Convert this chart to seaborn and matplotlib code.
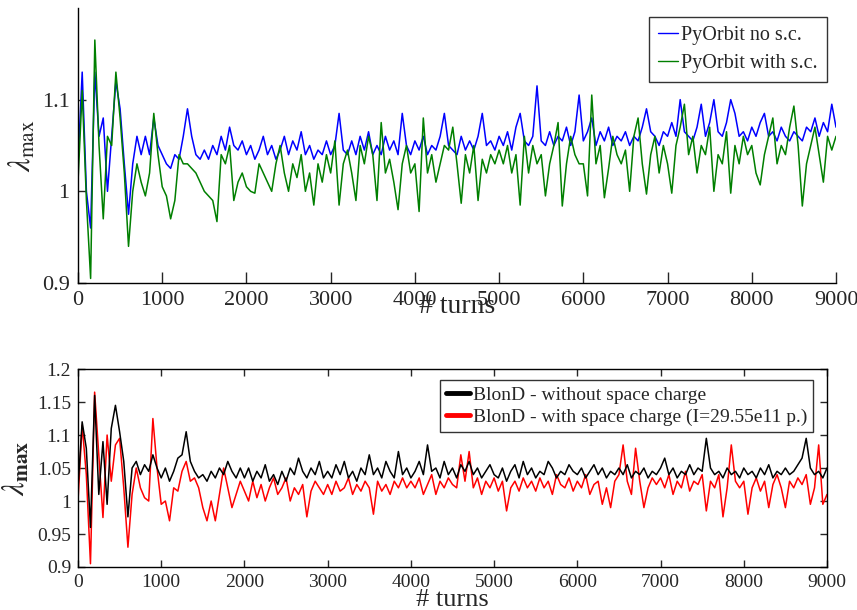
import numpy as np
import pandas as pd
import matplotlib
matplotlib.use("Agg")
import matplotlib.pyplot as plt
import seaborn as sns

# lambda_max sampled every 50 turns (0 ... 9000)
STEP = 50

pyorbit_no_sc = [
    1.03, 1.13, 1.00, 0.96, 1.13, 1.06, 1.08, 1.00, 1.06, 1.12,
    1.09, 1.03, 0.975, 1.03, 1.06, 1.04, 1.06, 1.04, 1.08, 1.05,
    1.04, 1.03, 1.025, 1.04, 1.035, 1.06, 1.09, 1.06, 1.04, 1.035,
    1.045, 1.035, 1.05, 1.04, 1.06, 1.045, 1.07, 1.05, 1.045, 1.055,
    1.04, 1.05, 1.035, 1.045, 1.06, 1.04, 1.05, 1.035, 1.045, 1.06,
    1.04, 1.055, 1.045, 1.065, 1.04, 1.05, 1.035, 1.045, 1.04, 1.055,
    1.04, 1.05, 1.085, 1.045, 1.04, 1.055, 1.04, 1.06, 1.045, 1.065,
    1.04, 1.05, 1.04, 1.06, 1.045, 1.055, 1.04, 1.085, 1.05, 1.04,
    1.055, 1.045, 1.06, 1.04, 1.05, 1.045, 1.06, 1.085, 1.05, 1.045,
    1.04, 1.06, 1.045, 1.055, 1.045, 1.06, 1.085, 1.05, 1.055, 1.045,
    1.06, 1.05, 1.065, 1.045, 1.07, 1.085, 1.055, 1.05, 1.06, 1.115,
    1.055, 1.05, 1.065, 1.05, 1.06, 1.055, 1.07, 1.05, 1.065, 1.105,
    1.055, 1.065, 1.08, 1.05, 1.065, 1.055, 1.07, 1.05, 1.06, 1.055,
    1.065, 1.05, 1.06, 1.055, 1.07, 1.09, 1.065, 1.06, 1.05, 1.065,
    1.06, 1.075, 1.06, 1.10, 1.065, 1.06, 1.055, 1.07, 1.095, 1.06,
    1.075, 1.10, 1.065, 1.06, 1.075, 1.10, 1.085, 1.06, 1.065, 1.055,
    1.07, 1.06, 1.075, 1.085, 1.06, 1.065, 1.055, 1.07, 1.06, 1.055,
    1.065, 1.06, 1.055, 1.07, 1.065, 1.08, 1.06, 1.075, 1.065, 1.095,
    1.07,
]

pyorbit_with_sc = [
    1.01, 1.11, 0.99, 0.905, 1.165, 1.05, 0.97, 1.06, 1.05, 1.13,
    1.08, 1.02, 0.94, 1.00, 1.03, 1.01, 0.995, 1.02, 1.085, 1.04,
    1.005, 0.995, 0.97, 0.99, 1.04, 1.03, 1.03, 1.025, 1.02, 1.01,
    1.00, 0.995, 0.99, 0.967, 1.04, 1.03, 1.05, 0.99, 1.01, 1.02,
    1.005, 1.00, 0.998, 1.03, 1.02, 1.01, 1.00, 1.03, 1.05, 1.02,
    1.00, 1.03, 1.015, 1.04, 1.00, 1.02, 0.985, 1.03, 1.01, 1.04,
    1.02, 1.055, 0.985, 1.03, 1.045, 1.02, 0.99, 1.05, 1.03, 1.06,
    1.04, 0.99, 1.075, 1.02, 1.035, 1.01, 0.98, 1.03, 1.05, 1.02,
    1.03, 0.978, 1.08, 1.02, 1.04, 1.01, 1.03, 1.05, 1.045, 1.07,
    1.03, 0.987, 1.04, 1.02, 1.05, 0.99, 1.035, 1.02, 1.04, 1.03,
    1.045, 1.03, 1.05, 1.02, 1.04, 0.985, 1.06, 1.02, 1.05, 1.03,
    1.04, 0.995, 1.03, 1.05, 1.075, 0.984, 1.03, 1.06, 1.04, 1.03,
    1.03, 0.995, 1.105, 1.03, 1.05, 0.993, 1.025, 1.06, 1.04, 1.03,
    1.045, 1.00, 1.06, 1.08, 1.03, 0.997, 1.04, 1.06, 1.02, 1.05,
    1.03, 0.998, 1.05, 1.07, 1.095, 1.04, 1.06, 1.02, 1.05, 1.04,
    1.07, 1.00, 1.04, 1.03, 1.065, 0.998, 1.05, 1.03, 1.06, 1.04,
    1.05, 1.02, 1.007, 1.04, 1.06, 1.08, 1.03, 1.05, 1.04, 1.07,
    1.093, 1.05, 0.984, 1.03, 1.05, 1.07, 1.04, 1.01, 1.06, 1.045,
    1.06,
]

blond_no_sc = [
    1.02, 1.12, 1.08, 0.96, 1.16, 1.01, 1.09, 0.995, 1.11, 1.145,
    1.105, 1.06, 0.976, 1.05, 1.06, 1.04, 1.055, 1.045, 1.07, 1.05,
    1.035, 1.05, 1.03, 1.045, 1.065, 1.07, 1.105, 1.06, 1.045, 1.035,
    1.04, 1.03, 1.045, 1.035, 1.05, 1.04, 1.06, 1.045, 1.035, 1.05,
    1.035, 1.05, 1.03, 1.045, 1.035, 1.055, 1.03, 1.04, 1.025, 1.045,
    1.03, 1.05, 1.04, 1.065, 1.045, 1.035, 1.05, 1.04, 1.06, 1.035,
    1.045, 1.035, 1.055, 1.04, 1.06, 1.035, 1.045, 1.03, 1.05, 1.04,
    1.07, 1.04, 1.05, 1.035, 1.06, 1.045, 1.035, 1.075, 1.04, 1.05,
    1.035, 1.045, 1.06, 1.04, 1.085, 1.045, 1.05, 1.035, 1.06, 1.04,
    1.05, 1.035, 1.055, 1.045, 1.06, 1.04, 1.05, 1.035, 1.045, 1.055,
    1.04, 1.035, 1.05, 1.03, 1.045, 1.055, 1.035, 1.06, 1.04, 1.05,
    1.035, 1.045, 1.04, 1.06, 1.05, 1.035, 1.045, 1.04, 1.055, 1.045,
    1.04, 1.05, 1.035, 1.045, 1.055, 1.04, 1.05, 1.035, 1.045, 1.04,
    1.05, 1.04, 1.055, 1.035, 1.045, 1.04, 1.05, 1.035, 1.045, 1.04,
    1.05, 1.065, 1.04, 1.05, 1.035, 1.045, 1.04, 1.055, 1.04, 1.05,
    1.045, 1.095, 1.05, 1.04, 1.045, 1.035, 1.05, 1.04, 1.045, 1.035,
    1.05, 1.04, 1.045, 1.035, 1.05, 1.04, 1.055, 1.035, 1.045, 1.04,
    1.05, 1.04, 1.045, 1.055, 1.065, 1.095, 1.05, 1.04, 1.045, 1.035,
    1.05,
]

blond_with_sc = [
    1.00, 1.115, 1.04, 0.905, 1.165, 1.07, 0.975, 1.10, 1.03, 1.085,
    1.095, 1.02, 0.93, 1.01, 1.05, 1.02, 1.005, 1.00, 1.125, 1.05,
    0.995, 1.00, 0.97, 1.02, 1.015, 1.045, 1.06, 1.03, 1.035, 1.02,
    0.99, 0.97, 1.00, 0.97, 1.01, 1.05, 1.02, 0.99, 1.01, 1.03,
    1.015, 1.00, 1.03, 1.005, 1.025, 1.00, 1.02, 1.035, 1.01, 1.02,
    1.035, 1.00, 1.02, 1.01, 1.025, 0.976, 1.015, 1.03, 1.02, 1.01,
    1.025, 1.01, 1.03, 1.015, 1.02, 1.035, 1.01, 1.025, 1.015, 1.03,
    1.02, 0.98, 1.03, 1.015, 1.025, 1.01, 1.03, 1.02, 1.035, 1.02,
    1.03, 1.02, 1.035, 1.01, 1.025, 1.04, 1.01, 1.03, 1.02, 1.035,
    1.025, 1.02, 1.07, 1.03, 1.075, 1.02, 1.035, 1.01, 1.03, 1.02,
    1.035, 1.015, 1.03, 0.985, 1.02, 1.03, 1.015, 1.035, 1.02, 1.03,
    1.015, 1.035, 1.02, 1.03, 1.01, 1.04, 1.025, 1.02, 1.035, 1.015,
    1.03, 1.02, 1.04, 1.01, 1.025, 1.03, 0.995, 1.02, 0.99, 1.03,
    1.04, 1.085, 1.03, 1.01, 1.08, 1.03, 0.99, 1.02, 1.035, 1.025,
    1.035, 1.02, 1.04, 1.01, 1.03, 1.02, 1.045, 1.015, 1.03, 1.025,
    1.04, 0.985, 1.03, 1.02, 1.04, 0.976, 1.02, 1.085, 1.03, 1.02,
    1.03, 0.98, 1.02, 1.035, 1.015, 1.03, 0.99, 1.025, 1.04, 1.02,
    0.99, 1.03, 1.02, 1.035, 1.025, 1.04, 0.995, 1.02, 1.085, 0.995,
    1.01,
]

top_labels = ["PyOrbit no s.c.", "PyOrbit with s.c."]
bottom_labels = ["BlonD - without space charge",
                 "BlonD - with space charge (I=29.55e11 p.)"]
x_ticks = list(range(0, 9001, 1000))
top_y_ticks = [0.9, 1.0, 1.1]
bottom_y_ticks = [0.9, 0.95, 1.0, 1.05, 1.1, 1.15, 1.2]


def long_frame(series, labels):
    parts = []
    for vals, lab in zip(series, labels):
        parts.append(pd.DataFrame({
            "turns": np.arange(len(vals)) * STEP,
            "lam": vals,
            "code": lab,
        }))
    return pd.concat(parts, ignore_index=True)


sns.set_style("white")
plt.rcParams["font.family"] = ["Liberation Serif", "DejaVu Serif"]
plt.rcParams["mathtext.fontset"] = "stix"

fig = plt.figure(figsize=(8.57, 6.10), dpi=100)
ax1 = fig.add_axes([0.091, 0.536, 0.8845, 0.451])
ax2 = fig.add_axes([0.091, 0.0705, 0.874, 0.3245])

LW = 1.1

# ---- upper panel: PyOrbit ----
df_top = long_frame([pyorbit_no_sc, pyorbit_with_sc], top_labels)
sns.lineplot(data=df_top, x="turns", y="lam", hue="code", hue_order=top_labels,
             palette=["#0000ff", "#007f00"], estimator=None, lw=LW, ax=ax1)
ax1.set_xlim(0, 9000)
ax1.set_ylim(0.9, 1.2)
ax1.set_xticks(x_ticks)
ax1.set_yticks(top_y_ticks)
ax1.set_yticklabels(["0.9", "1", "1.1"])
for s in ["top", "right"]:
    ax1.spines[s].set_visible(False)
for s in ["left", "bottom"]:
    ax1.spines[s].set_color("black")
    ax1.spines[s].set_linewidth(1.0)
ax1.tick_params(axis="x", direction="in", length=8, width=1, labelsize=16,
                bottom=True, pad=6)
ax1.tick_params(axis="y", direction="in", length=6, width=1, labelsize=16,
                left=True, pad=6)
ax1.set_xlabel("# turns", fontsize=20)
ax1.xaxis.set_label_coords(0.5, -0.04)
ax1.set_ylabel(r"$\lambda_{\mathrm{max}}$", fontsize=22)
ax1.yaxis.set_label_coords(-0.053, 0.5)
leg1 = ax1.legend(loc="upper right", bbox_to_anchor=(0.988, 0.967),
                  borderaxespad=0, fontsize=14.5, frameon=True, fancybox=False,
                  handlelength=1.0, handletextpad=0.15, borderpad=0.45,
                  labelspacing=0.45)
leg1.get_frame().set_edgecolor("black")
leg1.get_frame().set_linewidth(1.0)
for ln in leg1.get_lines():
    ln.set_linewidth(1.0)

# ---- lower panel: BlonD ----
df_bot = long_frame([blond_no_sc, blond_with_sc], bottom_labels)
sns.lineplot(data=df_bot, x="turns", y="lam", hue="code",
             hue_order=bottom_labels[::-1], palette=["#ff0000", "#000000"],
             estimator=None, lw=LW, ax=ax2)
ax2.set_xlim(0, 9000)
ax2.set_ylim(0.9, 1.2)
ax2.set_xticks(x_ticks)
ax2.set_yticks(bottom_y_ticks)
ax2.set_yticklabels(["0.9", "0.95", "1", "1.05", "1.1", "1.15", "1.2"])
for s in ax2.spines.values():
    s.set_visible(True)
    s.set_color("black")
    s.set_linewidth(1.0)
ax2.tick_params(axis="both", direction="in", length=5, width=1, labelsize=14,
                top=True, right=True, bottom=True, left=True, pad=5)
ax2.set_xlabel("# turns", fontsize=19)
ax2.xaxis.set_label_coords(0.5, -0.11)
ax2.set_ylabel(r"$\lambda_{\mathbf{max}}$", fontsize=22)
ax2.yaxis.set_label_coords(-0.062, 0.5)
handles, labels = ax2.get_legend_handles_labels()
order = [labels.index(l) for l in bottom_labels]
leg2 = ax2.legend([handles[i] for i in order], [labels[i] for i in order],
                  loc="upper right", bbox_to_anchor=(0.981, 0.944),
                  borderaxespad=0, fontsize=14, frameon=True, fancybox=False,
                  handlelength=1.2, handletextpad=0.15, borderpad=0.3,
                  labelspacing=0.25)
leg2.get_frame().set_edgecolor("black")
leg2.get_frame().set_linewidth(1.0)
for ln in leg2.get_lines():
    ln.set_linewidth(3.5)

fig.savefig("out.png", dpi=100, facecolor="white")
